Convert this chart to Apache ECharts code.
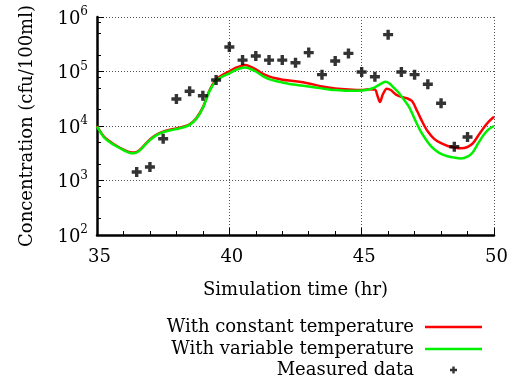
<!DOCTYPE html>
<html>
<head>
<meta charset="utf-8">
<script src="https://cdn.jsdelivr.net/npm/echarts@6/dist/echarts.min.js"></script>
<style>html,body{margin:0;padding:0;background:#fff}#c{width:515px;height:382px}</style>
</head>
<body>
<div id="c"></div>
<script>
// ---- data ----
const constTime = [35.0,35.25,35.5,35.75,36.0,36.25,36.4,36.6,36.8,37.0,37.25,37.5,37.75,38.0,38.25,38.5,38.75,39.0,39.25,39.5,39.75,40.0,40.25,40.5,40.6,40.75,41.0,41.25,41.5,41.75,42.0,42.5,43.0,43.5,44.0,44.5,45.0,45.25,45.5,45.6,45.69,45.8,45.95,46.1,46.3,46.5,46.7,46.9,47.1,47.3,47.5,47.75,48.0,48.25,48.5,48.75,49.0,49.2,49.4,49.6,49.8,50.0];
const constConc = [10000,6500,5150,4300,3700,3300,3250,3600,4500,5650,6950,7900,8550,9050,9700,10800,13900,22000,44900,71000,87100,101000,117500,128800,131800,125900,109600,91200,81300,75000,70800,66100,60300,53100,49000,46800,45700,47300,46800,35500,27500,38000,48400,45700,37600,34300,32400,28800,18600,11700,7900,5750,4840,4300,4030,3890,4120,4790,6600,9120,12000,14800];
const varTime = [35.0,35.25,35.5,35.75,36.0,36.25,36.4,36.6,36.8,37.0,37.25,37.5,37.75,38.0,38.25,38.5,38.75,39.0,39.25,39.5,39.75,40.0,40.25,40.5,40.6,40.75,41.0,41.25,41.5,41.75,42.0,42.5,43.0,43.5,44.0,44.5,45.0,45.25,45.5,45.75,45.9,46.05,46.2,46.4,46.6,46.8,47.0,47.2,47.4,47.6,47.8,48.0,48.25,48.5,48.75,49.0,49.2,49.4,49.6,49.8,50.0];
const varConc = [9800,6300,5000,4200,3600,3200,3160,3500,4400,5500,6800,7700,8300,8800,9400,10500,13500,21400,43600,67600,81300,92300,107200,117500,118900,113500,100000,83200,72400,66800,63100,56900,53100,49000,45700,44200,44700,46800,51300,60300,64600,60300,51300,40700,30200,21900,13500,8500,5890,4370,3550,3090,2790,2630,2540,2750,3310,4790,6760,8710,10000];
const measTime = [36.5,37.0,37.5,38.0,38.5,39.0,39.5,40.0,40.5,41.0,41.5,42.0,42.5,43.0,43.5,44.0,44.5,45.0,45.5,46.0,46.5,47.0,47.5,48.0,48.5,49.0];
const measConc = [1430,1770,5850,31300,43300,36000,69800,282000,162000,192000,162000,162000,145000,222000,87500,156000,215000,98000,80000,474000,98000,87500,58200,26100,4170,6280];
const xTicks = [35,40,45,50];
const yMinorTicks = [200,500,800,2000,5000,8000,20000,50000,80000,200000,500000,800000];
const seriesNames = ['With constant temperature','With variable temperature','Measured data'];

const FONT = 'DejaVu Serif';
const FS = 18;
const RED = '#ff0000', GREEN = '#00f000';
const plus = 'path://M3.3,0H6.7V3.3H10V6.7H6.7V10H3.3V6.7H0V3.3H3.3Z';
const zip = (a,b) => a.map((v,i)=>[v,b[i]]);

const chart = echarts.init(document.getElementById('c'), null, {renderer:'canvas'});
const legendBase = {
  orient:'horizontal', align:'right', itemGap:0, padding:0,
  textStyle:{fontFamily:FONT,fontSize:FS,color:'#000',padding:[0,6,0,0]},
  selectedMode:false
};
chart.setOption({
  animation:false,
  backgroundColor:'#fff',
  grid:{left:97,right:21,top:17,bottom:147,containLabel:false},
  xAxis:{
    type:'value',min:35,max:50,interval:5,
    name:'Simulation time (hr)',nameLocation:'middle',nameGap:46,
    nameTextStyle:{fontFamily:FONT,fontSize:FS,color:'#000'},
    axisLine:{show:true,onZero:false,lineStyle:{color:'#000',width:2.5}},
    axisTick:{show:true,inside:true,length:7,lineStyle:{color:'#000',width:1}},
    minorTick:{show:true,splitNumber:5,length:4,lineStyle:{color:'#000',width:1}},
    splitLine:{show:true,lineStyle:{color:'#555',width:1,type:[1,2]}},
    axisLabel:{margin:13,fontFamily:FONT,fontSize:FS,color:'#000',
      customValues:xTicks,padding:[0,0,0,5]}
  },
  yAxis:[{
    type:'log',logBase:10,min:100,max:1000000,
    name:'Concentration (cfu/100ml)',nameLocation:'middle',nameGap:61,
    nameTextStyle:{fontFamily:FONT,fontSize:FS,color:'#000'},
    axisLine:{show:true,lineStyle:{color:'#000',width:2.5}},
    axisTick:{show:true,inside:true,length:7,lineStyle:{color:'#000',width:1}},
    minorTick:{show:false},
    splitLine:{show:true,lineStyle:{color:'#555',width:1,type:[1,2]}},
    axisLabel:{margin:9,
      formatter:function(v){return '{b|10}{s|'+Math.round(Math.log10(v))+'}';},
      rich:{
        b:{fontFamily:FONT,fontSize:FS,color:'#000',lineHeight:22,verticalAlign:'bottom',padding:[6,0,0,0]},
        s:{fontFamily:FONT,fontSize:12,color:'#000',lineHeight:22,verticalAlign:'top'}
      }
    }
  },{
    type:'log',logBase:10,min:100,max:1000000,position:'left',
    axisLine:{show:false},axisLabel:{show:false},splitLine:{show:false},
    axisTick:{show:true,inside:true,length:4,customValues:yMinorTicks,lineStyle:{color:'#000',width:1}}
  }],
  legend:[
    Object.assign({},legendBase,{data:[{name:seriesNames[0],icon:'rect',itemStyle:{color:RED}}],right:33,top:318,itemWidth:57,itemHeight:2.5}),
    Object.assign({},legendBase,{data:[{name:seriesNames[1],icon:'rect',itemStyle:{color:GREEN}}],right:33,top:340,itemWidth:57,itemHeight:2.5}),
    Object.assign({},legendBase,{data:[{name:seriesNames[2],icon:plus}],right:58,top:361,itemWidth:7,itemHeight:7,
      textStyle:{fontFamily:FONT,fontSize:FS,color:'#000',padding:[0,31,0,0]}})
  ],
  series:[
    {name:seriesNames[0],type:'line',data:zip(constTime,constConc),showSymbol:false,symbol:'none',smooth:0.3,
      lineStyle:{color:RED,width:2.5},itemStyle:{color:RED},z:2},
    {name:seriesNames[1],type:'line',data:zip(varTime,varConc),showSymbol:false,symbol:'none',smooth:0.3,
      lineStyle:{color:GREEN,width:2.5},itemStyle:{color:GREEN},z:3},
    {name:seriesNames[2],type:'scatter',data:zip(measTime,measConc),symbol:plus,symbolSize:10,
      itemStyle:{color:'#000'},z:4}
  ]
});
</script>
</body>
</html>
